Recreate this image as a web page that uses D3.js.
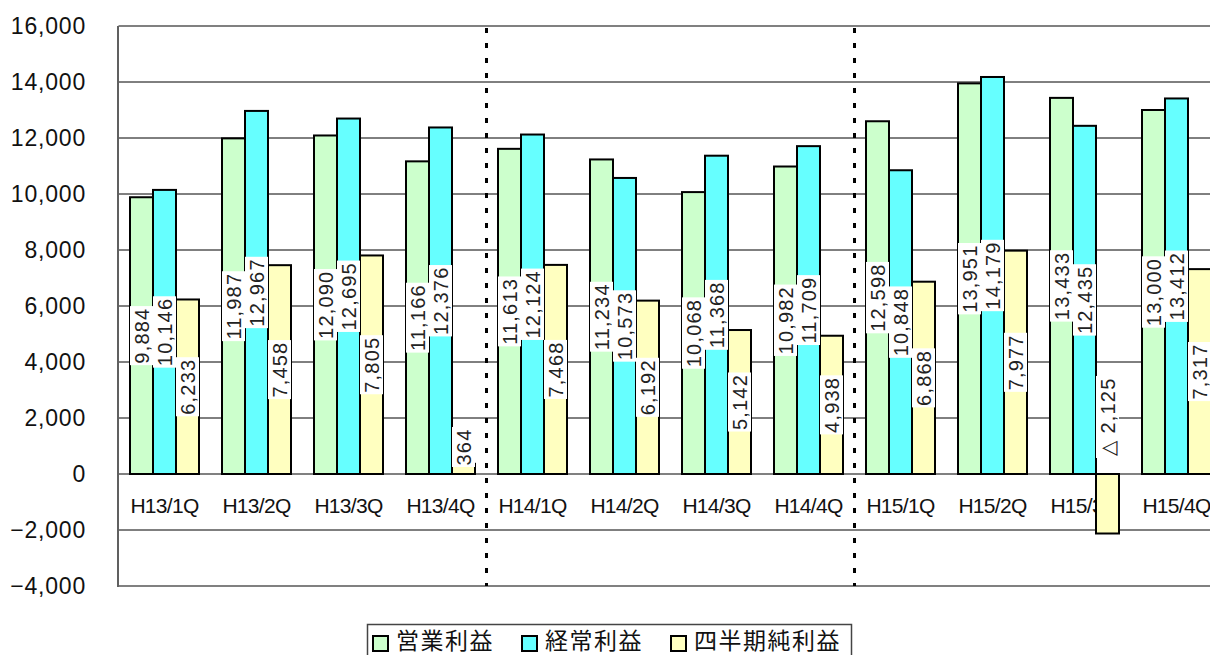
<!DOCTYPE html>
<html>
<head>
<meta charset="utf-8">
<script src="https://cdn.jsdelivr.net/npm/d3@7"></script>
<style>
  body { margin: 0; background: #fff; }
  svg { display: block; }
</style>
</head>
<body>
<div id="chart"></div>
<script>
// quarterly profit chart (営業利益 / 経常利益 / 四半期純利益)

var categories = ["H13/1Q", "H13/2Q", "H13/3Q", "H13/4Q", "H14/1Q", "H14/2Q",
                  "H14/3Q", "H14/4Q", "H15/1Q", "H15/2Q", "H15/3Q", "H15/4Q"];
var operatingProfit = [9884, 11987, 12090, 11166, 11613, 11234, 10068, 10982, 12598, 13951, 13433, 13000];
var ordinaryProfit  = [10146, 12967, 12695, 12376, 12124, 10573, 11368, 11709, 10848, 14179, 12435, 13412];
var netIncome       = [6233, 7458, 7805, 364, 7468, 6192, 5142, 4938, 6868, 7977, -2125, 7317];
var seriesNames = ["営業利益", "経常利益", "四半期純利益"];
var seriesColors = ["#CCFFCC", "#66FFFF", "#FFFFC0"];
var yTicks = [-4000, -2000, 0, 2000, 4000, 6000, 8000, 10000, 12000, 14000, 16000];
var yearBreaks = ["H14/1Q", "H15/1Q"];

var width = 1210, height = 655;
var margin = { top: 26, left: 118.5 };
var plotH = 560;
var step = 92;

var series = [operatingProfit, ordinaryProfit, netIncome];

var svg = d3.select("#chart").append("svg")
    .attr("width", width)
    .attr("height", height);

var x = d3.scaleBand()
    .domain(categories)
    .range([margin.left, margin.left + step * categories.length])
    .paddingInner(0.25)
    .paddingOuter(0.125);

var xs = d3.scaleBand()
    .domain(d3.range(series.length))
    .range([0, x.bandwidth()]);

var y = d3.scaleLinear()
    .domain([-4000, 16000])
    .range([margin.top + plotH, margin.top]);

var fmt = d3.format(",");
function labelText(v) {
    return v < 0 ? "△ " + fmt(-v) : fmt(v);
}

// gridlines
svg.append("g")
    .selectAll("line")
    .data(yTicks)
    .enter().append("line")
    .attr("x1", margin.left)
    .attr("x2", width)
    .attr("y1", d => y(d))
    .attr("y2", d => y(d))
    .attr("stroke", d => (d == 0 || d == 16000 || d == -4000) ? "#808080" : "#000")
    .attr("stroke-width", d => (d == 0 || d == 16000 || d == -4000) ? 2 : 1);

// left axis line
svg.append("line")
    .attr("x1", margin.left - 0.5).attr("x2", margin.left - 0.5)
    .attr("y1", y(16000)).attr("y2", y(-4000) + 1)
    .attr("stroke", "#606060")
    .attr("stroke-width", 2);

// y tick labels
svg.append("g")
    .selectAll("text")
    .data(yTicks)
    .enter().append("text")
    .attr("x", 86)
    .attr("y", d => y(d))
    .attr("dy", "0.36em")
    .attr("text-anchor", "end")
    .style("font", "23px 'Liberation Sans', Arial, sans-serif")
    .style("letter-spacing", "0.8px")
    .attr("fill", "#111")
    .text(d => fmt(d));

// category labels (drawn under the bars)
svg.append("g")
    .selectAll("text")
    .data(categories)
    .enter().append("text")
    .attr("x", d => x(d) + x.bandwidth() / 2)
    .attr("y", y(0) + 39)
    .attr("text-anchor", "middle")
    .style("font", "21px 'Liberation Sans', Arial, sans-serif")
    .style("letter-spacing", "-0.7px")
    .attr("fill", "#111")
    .text(d => d);

// bars
var barData = [];
series.forEach(function(vals, s) {
    vals.forEach(function(v, i) {
        barData.push({ s: s, cat: categories[i], v: v });
    });
});

svg.append("g")
    .selectAll("rect")
    .data(barData)
    .enter().append("rect")
    .attr("x", d => x(d.cat) + xs(d.s))
    .attr("width", xs.bandwidth())
    .attr("y", d => Math.min(y(d.v), y(0)))
    .attr("height", d => Math.abs(y(d.v) - y(0)))
    .attr("fill", d => seriesColors[d.s])
    .attr("stroke", "#000")
    .attr("stroke-width", 2);

// dotted year separators
svg.append("g")
    .selectAll("line")
    .data(yearBreaks)
    .enter().append("line")
    .attr("x1", d => x(d) - x.step() * x.paddingInner() / 2)
    .attr("x2", d => x(d) - x.step() * x.paddingInner() / 2)
    .attr("y1", y(16000) + 2)
    .attr("y2", y(-4000))
    .attr("stroke", "#000")
    .attr("stroke-width", 3)
    .attr("stroke-dasharray", "5,10");

// value labels
var labels = svg.append("g")
    .selectAll("g")
    .data(barData)
    .enter().append("g");

labels.each(function(d) {
    var g = d3.select(this);
    var t = g.append("text")
        .attr("text-anchor", "middle")
        .attr("dy", "0.36em")
        .style("font", "20px 'Liberation Sans', Arial, sans-serif")
        .style("letter-spacing", "1.2px")
        .attr("fill", "#222")
        .text(labelText(d.v));
    var len = t.node().getComputedTextLength() + 3;
    var cx = x(d.cat) + xs(d.s) + xs.bandwidth() / 2;
    var cy = (y(0) + y(d.v)) / 2;
    if (d.v < 0) {
        cy = y(0) - 16 - len / 2;
    } else if (cy + len / 2 > y(0) - 7) {
        cy = y(0) - 7 - len / 2;
    }
    g.attr("transform", "translate(" + cx + "," + cy + ") rotate(-90)");
    g.insert("rect", "text")
        .attr("x", -len / 2)
        .attr("y", -11.5)
        .attr("width", len)
        .attr("height", 23)
        .attr("fill", "#fff");
});

// legend
var legend = svg.append("g");
legend.append("rect")
    .attr("x", 367.5)
    .attr("y", 624.5)
    .attr("width", 484)
    .attr("height", 50)
    .attr("fill", "#fff")
    .attr("stroke", "#444")
    .attr("stroke-width", 1.5);

var lx = 373;
seriesNames.forEach(function(name, i) {
    legend.append("rect")
        .attr("x", lx)
        .attr("y", 636)
        .attr("width", 15)
        .attr("height", 15)
        .attr("fill", seriesColors[i])
        .attr("stroke", "#000")
        .attr("stroke-width", 2);
    var t = legend.append("text")
        .attr("x", lx + 23)
        .attr("y", 649)
        .style("font", "23px 'Noto Sans CJK JP', sans-serif")
        .style("letter-spacing", "1.5px")
        .attr("fill", "#111")
        .text(name);
    lx = lx + 23 + t.node().getComputedTextLength() + 28;
});
</script>
</body>
</html>
